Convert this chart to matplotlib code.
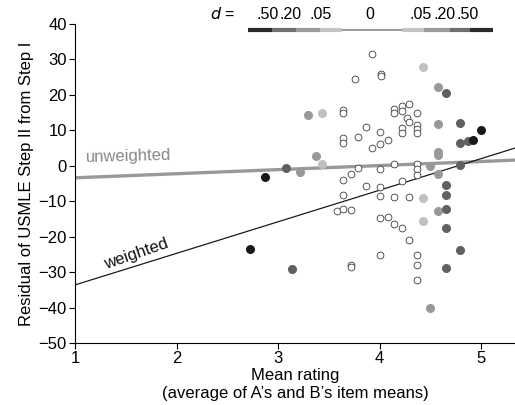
import numpy as np
import matplotlib.pyplot as plt

plt.rcParams['font.family'] = ['Liberation Sans', 'DejaVu Sans']

# residuals by effect-size group (mean rating, residual)
open_x = [3.93, 3.76, 4.01, 4.01, 3.64, 3.64, 4.14, 4.14, 4.22, 4.22, 4.29, 4.37, 4.27, 4.29,
          4.22, 4.22, 4.37, 4.37, 4.37, 3.87, 4.00, 3.79, 3.64, 3.64, 4.08, 4.00, 3.93, 4.14,
          4.37, 4.37, 4.37, 3.79, 4.00, 3.72, 3.64, 4.22, 3.87, 4.00, 3.64, 4.00, 4.14, 4.29,
          3.58, 3.64, 3.72, 4.00, 4.08, 4.14, 4.22, 4.29, 3.72, 3.72, 4.00, 4.37, 4.37, 4.37]
open_y = [31.5, 24.6, 25.9, 25.3, 15.7, 14.8, 15.9, 14.8, 16.9, 15.5, 17.5, 14.8, 13.5, 12.4,
          10.6, 9.3, 11.4, 10.3, 9.3, 10.9, 9.6, 8.1, 7.9, 6.5, 7.2, 6.0, 4.9, 0.6,
          0.6, -0.9, -2.6, -0.7, -1.0, -2.4, -4.1, -4.3, -5.7, -6.0, -8.2, -8.5, -8.8, -8.8,
          -12.7, -12.2, -12.5, -14.8, -14.5, -16.3, -17.6, -20.9, -28.1, -28.5, -25.2, -25.2, -27.9, -32.1]

light_x = [4.43, 3.43, 3.43, 4.43, 4.43]
light_y = [27.9, 14.8, 0.6, -9.2, -15.5]

mid_x = [4.58, 3.29, 4.58, 4.58, 4.58, 3.37, 3.22, 4.50, 4.58, 4.58, 4.50]
mid_y = [22.1, 14.3, 11.7, 3.9, 3.1, 2.7, -1.9, 0.0, -2.2, -12.7, -40.1]

dark_x = [4.65, 4.79, 4.79, 4.87, 3.08, 4.79, 4.65, 4.65, 4.65, 4.65, 4.65, 4.79, 3.14]
dark_y = [20.5, 12.1, 6.3, 6.9, -0.6, 0.2, -5.4, -8.2, -12.2, -17.6, -28.9, -23.7, -29.2]

black_x = [5.00, 4.92, 2.87, 2.72]
black_y = [10.2, 7.2, -3.1, -23.4]

# regression lines (intercept at x=1, slope)
unw_b0, unw_b1 = -3.4, 1.15
w_b0, w_b1 = -33.6, 8.9

# d legend
d_edges = [2.70, 2.94, 3.18, 3.41, 3.63, 4.22, 4.44, 4.69, 4.89, 5.12]
d_colors = ['#2b2b2b', '#6e6e6e', '#9c9c9c', '#c4c4c4', '#888888',
            '#c4c4c4', '#9c9c9c', '#6e6e6e', '#2b2b2b']
d_labels = ['.50', '.20', '.05', '0', '.05', '.20', '.50']
d_label_x = [2.90, 3.12, 3.42, 3.90, 4.40, 4.64, 4.87]

fig = plt.figure(figsize=(5.15, 4.05), dpi=100)
ax = fig.add_axes([0.146, 0.153, 0.854, 0.788])

xs = np.array([0.96, 5.4])
ax.plot(xs, unw_b0 + unw_b1 * (xs - 1), color='#999999', lw=2.4, zorder=1)
ax.plot(xs, w_b0 + w_b1 * (xs - 1), color='#1a1a1a', lw=0.9, zorder=1)

ax.scatter(open_x, open_y, s=24, facecolors='white', edgecolors='#3a3a3a', linewidths=0.6, zorder=3)
ax.scatter(light_x, light_y, s=30, color='#c0c0c0', zorder=3)
ax.scatter(mid_x, mid_y, s=30, color='#999999', zorder=3)
ax.scatter(dark_x, dark_y, s=30, color='#606060', zorder=3)
ax.scatter(black_x, black_y, s=30, color='#1a1a1a', zorder=3)

ax.text(1.1, 0.3, 'unweighted', color='#888888', fontsize=12, rotation=1.5, va='bottom')
ax.text(1.6, -24.8, 'weighted', color='#111111', fontsize=12, rotation=19, ha='center', va='center')

# d legend bar
for i in range(len(d_colors)):
    lw = 1.2 if i == 4 else 3
    ax.plot([d_edges[i], d_edges[i + 1]], [38.2, 38.2], color=d_colors[i], lw=lw,
            solid_capstyle='butt', clip_on=False)
for lx, lab in zip(d_label_x, d_labels):
    ax.text(lx, 40.4, lab, ha='center', va='bottom', fontsize=11.5, clip_on=False)
ax.text(2.45, 40.4, '$d$ =', ha='center', va='bottom', fontsize=11.5)

ax.set_xlim(1, 5.335)
ax.set_ylim(-50, 40)
ax.set_xticks([1, 2, 3, 4, 5])
ax.set_yticks(range(-50, 41, 10))
ax.spines['top'].set_visible(False)
ax.spines['right'].set_visible(False)
ax.tick_params(direction='out', length=4, labelsize=12, pad=2)
ax.set_xlabel("Mean rating\n(average of A\u2019s and B\u2019s item means)", fontsize=12,
              labelpad=1, linespacing=1.3)
ax.set_ylabel("Residual of USMLE Step II from Step I", fontsize=12, labelpad=3)

fig.savefig('out.png', dpi=100)
